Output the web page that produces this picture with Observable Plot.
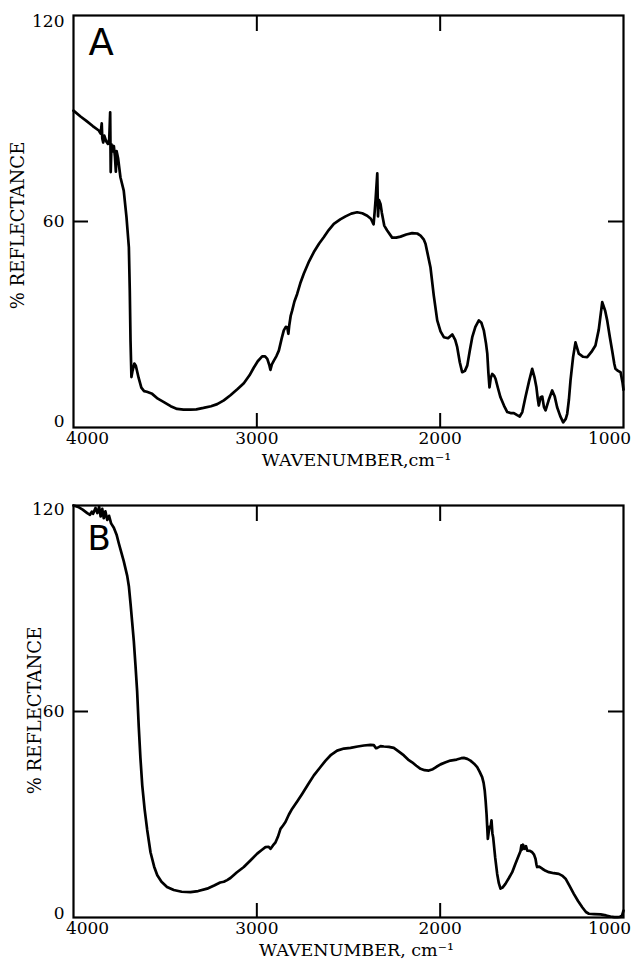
<!DOCTYPE html>
<html>
<head>
<meta charset="utf-8">
<script src="https://cdn.jsdelivr.net/npm/d3@7"></script>
<script src="https://cdn.jsdelivr.net/npm/@observablehq/plot@0.6"></script>
<style>
  html, body { margin: 0; padding: 0; background: #fff; }
  #chart { width: 634px; height: 968px; overflow: hidden; }
  #chart svg { display: block; }
</style>
</head>
<body>
<div id="chart"></div>
<script>
// ---------- data ----------
const waveA = [4000,3960,3930,3895,3862,3852,3846,3843,3838,3832,3822,3812,3805,3800,3797,3793,3786,3780,3774,3769,3765,3757,3744,3726,3711,3698,3693,3689,3684,3678,3668,3660,3645,3630,3615,3600,3571,3540,3507,3470,3435,3400,3362,3330,3291,3250,3216,3180,3144,3105,3071,3040,3017,2995,2971,2955,2943,2932,2926,2918,2907,2893,2880,2865,2853,2842,2834,2828,2823,2815,2807,2795,2780,2763,2744,2715,2689,2660,2635,2608,2580,2545,2516,2485,2453,2425,2398,2378,2368,2363,2357,2352,2343,2339,2334,2325,2318,2305,2289,2262,2240,2216,2185,2153,2125,2107,2090,2080,2068,2053,2035,2016,1998,1980,1957,1934,1918,1907,1893,1880,1865,1852,1838,1825,1808,1789,1775,1762,1750,1743,1737,1731,1724,1716,1705,1698,1685,1671,1652,1634,1616,1598,1580,1566,1552,1535,1515,1498,1485,1475,1468,1462,1452,1443,1434,1425,1408,1389,1375,1362,1345,1329,1315,1307,1298,1289,1275,1262,1252,1244,1220,1198,1175,1153,1135,1116,1100,1089,1075,1062,1050,1044,1030,1016,1005,1000];
const reflA = [92.3,90.5,89.3,87.8,86.5,85.6,88.6,84.2,83.0,85.0,83.4,82.6,84.0,91.8,74.4,82.5,80.4,82.0,79.0,74.5,80.5,78.5,72.9,69.0,61.3,52.5,39.9,25.3,14.7,16.5,18.6,18.0,14.5,11.6,10.6,10.4,9.8,8.4,7.4,6.2,5.4,5.2,5.2,5.3,5.7,6.2,6.8,7.9,9.4,11.2,12.9,15.2,17.4,19.3,20.7,20.7,20.0,18.2,16.8,18.4,19.5,20.8,22.4,25.8,28.3,29.3,29.2,27.3,29.8,32.6,34.1,36.7,38.9,42.0,44.8,48.4,51.1,53.6,55.4,57.5,59.3,60.6,61.5,62.3,62.7,62.4,61.7,60.8,59.7,59.2,63.0,66.5,74.0,61.5,66.3,65.0,62.5,58.8,57.4,55.3,55.3,55.6,56.2,56.6,56.5,55.9,54.8,53.5,50.5,46.7,38.5,31.2,28.0,26.3,26.0,27.1,25.5,23.4,19.0,16.1,16.5,18.1,22.5,26.3,29.3,31.2,30.5,28.3,24.5,21.5,16.0,11.7,14.5,15.6,15.0,14.2,11.5,8.8,6.4,4.5,4.2,4.2,3.6,3.2,4.5,8.8,13.5,17.1,14.5,11.7,8.5,6.4,8.8,9.0,6.0,5.0,8.0,10.8,9.0,5.9,3.3,1.5,2.5,4.0,8.0,13.7,20.5,24.8,23.0,21.5,20.6,20.5,22.0,23.9,28.5,36.5,34.0,31.2,26.5,22.4,18.5,17.1,16.5,16.1,13.0,11.0];

const waveB = [4000,3975,3950,3925,3910,3900,3893,3880,3870,3860,3852,3843,3835,3826,3816,3806,3795,3780,3765,3753,3740,3726,3707,3698,3689,3680,3671,3662,3653,3644,3635,3625,3612,3598,3580,3560,3543,3520,3490,3453,3410,3362,3320,3271,3230,3200,3180,3162,3144,3110,3071,3035,2998,2975,2953,2935,2925,2912,2898,2885,2871,2857,2844,2825,2807,2780,2753,2720,2689,2655,2625,2595,2562,2525,2489,2450,2416,2380,2362,2350,2343,2325,2307,2280,2253,2225,2198,2175,2153,2130,2107,2085,2062,2040,2020,1998,1970,1944,1910,1885,1871,1852,1835,1815,1798,1785,1771,1763,1757,1752,1747,1743,1740,1735,1730,1725,1720,1715,1711,1700,1689,1680,1671,1660,1644,1625,1607,1590,1571,1562,1557,1553,1548,1540,1532,1525,1510,1498,1488,1480,1475,1471,1460,1443,1425,1407,1380,1353,1335,1316,1295,1271,1248,1225,1205,1189,1160,1125,1095,1071,1050,1035,1020,1008,1000];
const reflB = [120,119.6,118.8,117.8,117.3,118.2,117.6,119.3,117.8,119.6,116.8,119.0,116.3,118.3,115.8,117.0,114.8,113.5,111.5,109.0,106.5,103.8,99.5,96.5,91.5,86.0,80.5,73.5,66.0,55.5,46.5,38.5,31.5,25.5,19.0,14.8,12.3,10.4,8.9,8.0,7.5,7.4,7.7,8.4,9.4,10.2,10.4,10.9,11.5,13.1,14.7,16.6,18.6,19.6,20.5,20.6,20.0,21.0,21.9,23.5,25.8,26.8,27.8,30.0,31.7,33.8,36.0,38.8,41.4,43.7,45.7,47.4,48.6,49.2,49.4,49.8,50.1,50.3,50.2,49.3,49.4,49.9,49.8,49.7,49.4,48.3,47.2,46.0,45.2,44.2,43.3,42.9,42.8,43.2,43.9,44.6,45.2,45.7,46.0,46.4,46.5,46.2,45.7,44.8,43.8,42.5,40.9,39.2,37.0,34.0,30.2,26.0,22.9,25.0,26.5,26.3,28.3,24.5,23.4,17.5,12.7,10.0,8.4,8.7,9.8,11.5,13.2,15.6,18.1,19.3,21.0,19.8,21.2,20.0,20.8,19.5,19.4,19.0,18.3,17.1,15.5,14.7,14.8,14.2,13.6,13.2,12.9,12.7,12.2,11.3,9.3,6.9,4.8,3.0,1.6,1.1,1.0,0.9,0.6,0.3,0.1,0.1,0.2,0.6,2.0];

const xTicks = [4000, 3000, 2000, 1000];
const yTicks = [0, 60, 120];
const innerXTicks = [3000, 2000];
const innerYTicks = [60];
const panelLetters = ["A", "B"];
const xTitles = ["WAVENUMBER,cm\u207B\u00B9", "WAVENUMBER, cm\u207B\u00B9"];
const yTitle = "% REFLECTANCE";

// ---------- drawing ----------
const serif = "'DejaVu Serif', 'Liberation Serif', serif";
const sans = "'DejaVu Sans', 'Liberation Sans', sans-serif";

function panel(wave, refl, o) {
  const data = wave.map((w, i) => ({w, r: refl[i]}));
  const tickLabel = {frameAnchor: "bottom", textAnchor: "middle", dy: 16, fontSize: 17, fontFamily: serif, fill: "#000", text: d => String(d)};
  const yLabel = {frameAnchor: "left", textAnchor: "end", dx: -9, fontSize: 17, fontFamily: serif, fill: "#000", text: d => String(d)};
  return Plot.plot({
    width: 634,
    height: o.height,
    marginLeft: 73,
    marginRight: 11,
    marginTop: o.top,
    marginBottom: o.bottom,
    x: {domain: [4000, 1000], axis: null},
    y: {domain: [0, 120], axis: null},
    style: {background: "#fff", color: "#000", fontFamily: serif, overflow: "visible"},
    marks: [
      Plot.line(data, {x: "w", y: "r", stroke: "#000", strokeWidth: 2.7, strokeLinejoin: "round", strokeLinecap: "round"}),
      Plot.frame({stroke: "#000", strokeWidth: 2.2}),
      Plot.tickX(innerXTicks, {x: d => d, insetTop: 398, stroke: "#000", strokeWidth: 2}),
      Plot.tickX(innerXTicks, {x: d => d, insetBottom: 396, stroke: "#000", strokeWidth: 2}),
      Plot.tickY(innerYTicks, {y: d => d, insetRight: 535, stroke: "#000", strokeWidth: 2}),
      Plot.tickY(innerYTicks, {y: d => d, insetLeft: 535, stroke: "#000", strokeWidth: 2}),
      Plot.text(xTicks.filter(d => d !== 4000 && d !== 1000), {x: d => d, ...tickLabel}),
      Plot.text(xTicks.filter(d => d === 4000), {x: d => d, ...tickLabel, dx: 14}),
      Plot.text(xTicks.filter(d => d === 1000), {x: d => d, ...tickLabel, dx: -14}),
      Plot.text(yTicks.filter(d => d === 60), {y: d => d, ...yLabel}),
      Plot.text(yTicks.filter(d => d === 120), {y: d => d, ...yLabel, dy: o.yLabelShift}),
      Plot.text(yTicks.filter(d => d === 0), {y: d => d, ...yLabel, dy: -o.yLabelShift}),
      Plot.text([o.letter], {frameAnchor: "top-left", textAnchor: "start", lineAnchor: "top", dx: o.letterDx, dy: o.letterDy, fontSize: o.letterSize, fontFamily: sans, fill: "#000", text: d => d}),
      Plot.text([yTitle], {frameAnchor: "left", textAnchor: "middle", rotate: -90, dx: o.yTitleDx, dy: o.yTitleDy, fontSize: 18, fontFamily: serif, fill: "#000", text: d => d}),
      Plot.text([o.xTitle], {frameAnchor: "bottom", textAnchor: "middle", dx: 8, dy: 38, fontSize: 17.5, fontFamily: serif, fill: "#000", text: d => d})
    ]
  });
}

const chart = document.getElementById("chart");
chart.append(panel(waveA, reflA, {
  height: 490, top: 15, bottom: 63, letter: panelLetters[0], xTitle: xTitles[0],
  letterDx: 15, letterDy: 13, letterSize: 37, yTitleDx: -55, yTitleDy: 4, yLabelShift: 6
}));
chart.append(panel(waveB, reflB, {
  height: 478, top: 15, bottom: 51, letter: panelLetters[1], xTitle: xTitles[1],
  letterDx: 14, letterDy: 20, letterSize: 34, yTitleDx: -38, yTitleDy: -1, yLabelShift: 4
}));
</script>
</body>
</html>
